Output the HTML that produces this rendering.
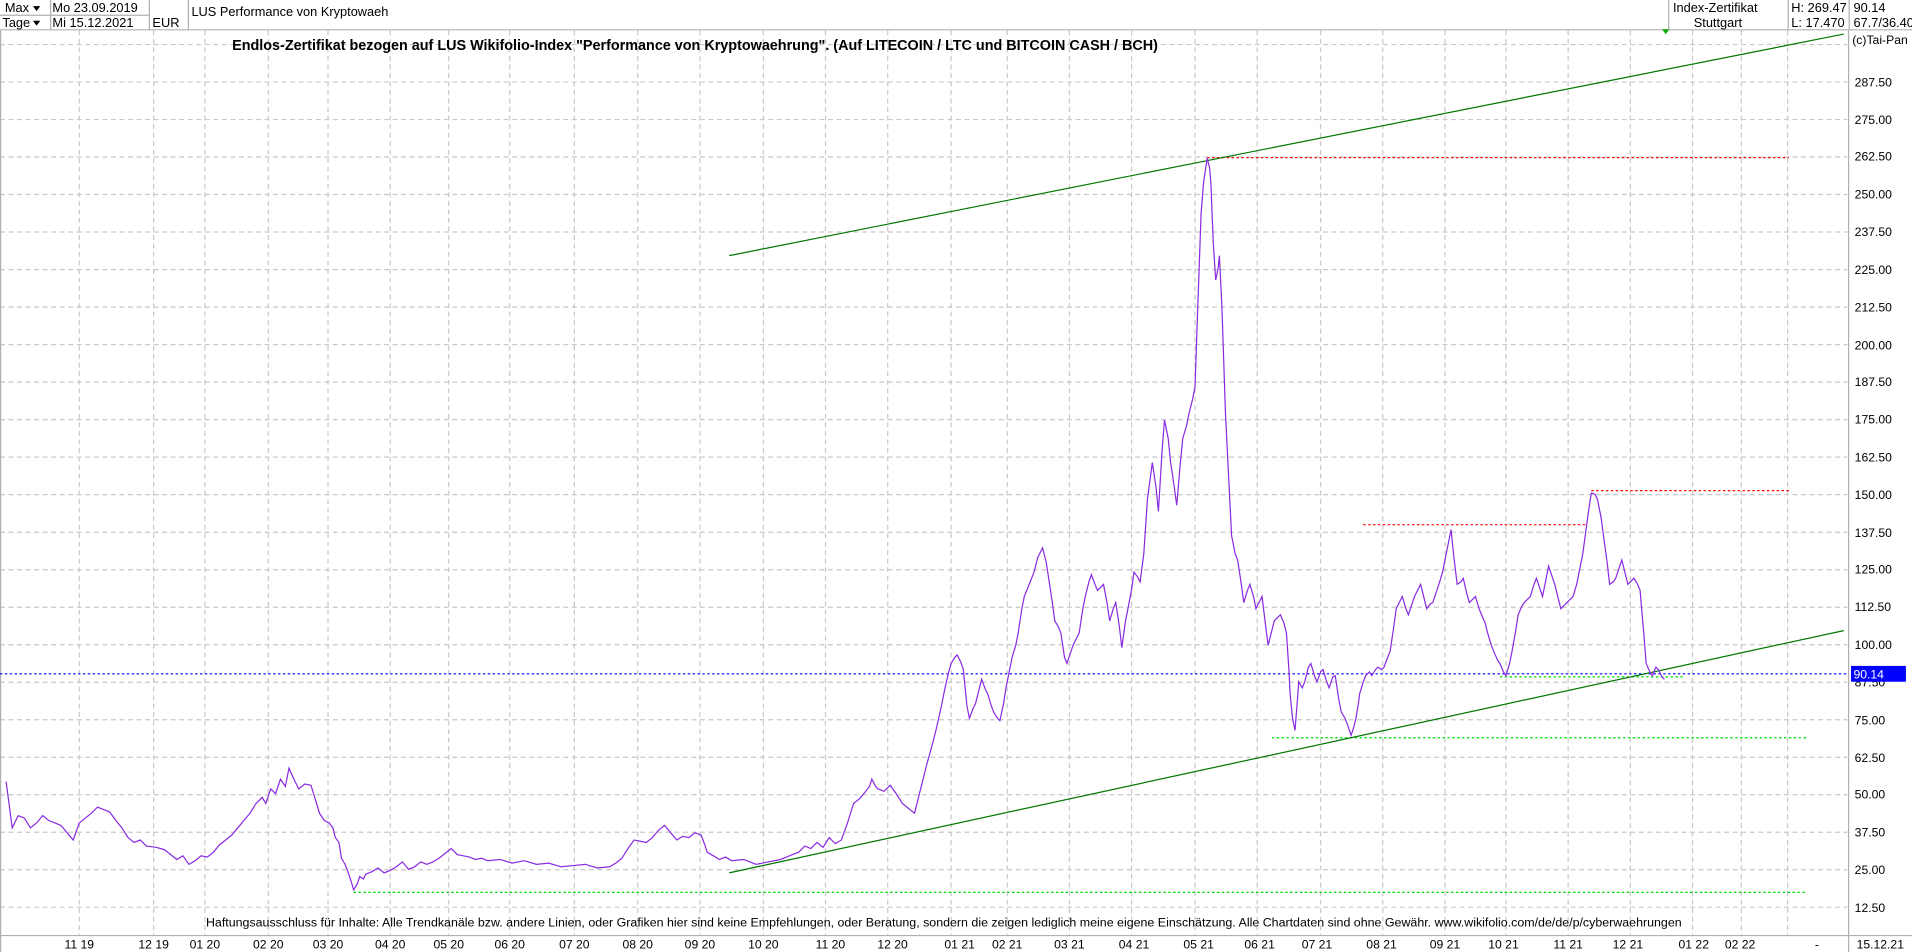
<!DOCTYPE html>
<html><head><meta charset="utf-8"><style>
html,body{margin:0;padding:0;background:#fff;}
svg{display:block;font-family:"Liberation Sans",sans-serif;}
</style></head><body>
<svg width="1912" height="952" viewBox="0 0 1568 782" preserveAspectRatio="none" xmlns="http://www.w3.org/2000/svg">
<rect width="1568" height="782" fill="#fff"/>
<g stroke="#b0b0b0" stroke-width="1" fill="none">
<line x1="0" y1="12.5" x2="122" y2="12.5"/>
<line x1="0" y1="24.5" x2="1568" y2="24.5"/>
<line x1="41.5" y1="0" x2="41.5" y2="25"/>
<line x1="122.5" y1="0" x2="122.5" y2="25"/>
<line x1="154.5" y1="0" x2="154.5" y2="25"/>
<line x1="1368.5" y1="0" x2="1368.5" y2="25"/>
<line x1="1466.5" y1="0" x2="1466.5" y2="25"/>
<line x1="1516.5" y1="0" x2="1516.5" y2="25"/>
</g>
<g font-size="10.5" fill="#000">
<text x="4" y="10">Max</text><path d="M27 5l6 0l-3 4z" fill="#000"/>
<text x="2" y="22">Tage</text><path d="M27 17l6 0l-3 4z" fill="#000"/>
<text x="43" y="10">Mo 23.09.2019</text>
<text x="43" y="22">Mi 15.12.2021</text>
<text x="125" y="22">EUR</text>
<text x="157" y="13">LUS Performance von Kryptowaeh</text>
<text x="1372" y="10">Index-Zertifikat</text>
<text x="1389" y="22">Stuttgart</text>
<text x="1469" y="10">H: 269.47</text>
<text x="1469" y="22">L: 17.470</text>
<text x="1520" y="10">90.14</text>
<text x="1520" y="22">67.7/36.40</text>
</g>
<g stroke="#c8c8c8" stroke-width="1" stroke-dasharray="4,3" fill="none">
<line x1="0" y1="36.6" x2="1515" y2="36.6"/>
<line x1="0" y1="67.4" x2="1515" y2="67.4"/><line x1="0" y1="98.2" x2="1515" y2="98.2"/>
<line x1="0" y1="129" x2="1515" y2="129"/><line x1="0" y1="159.8" x2="1515" y2="159.8"/>
<line x1="0" y1="190.6" x2="1515" y2="190.6"/><line x1="0" y1="221.5" x2="1515" y2="221.5"/>
<line x1="0" y1="252.3" x2="1515" y2="252.3"/><line x1="0" y1="283.1" x2="1515" y2="283.1"/>
<line x1="0" y1="313.9" x2="1515" y2="313.9"/><line x1="0" y1="344.7" x2="1515" y2="344.7"/>
<line x1="0" y1="375.5" x2="1515" y2="375.5"/><line x1="0" y1="406.3" x2="1515" y2="406.3"/>
<line x1="0" y1="437.2" x2="1515" y2="437.2"/><line x1="0" y1="468" x2="1515" y2="468"/>
<line x1="0" y1="498.8" x2="1515" y2="498.8"/><line x1="0" y1="529.6" x2="1515" y2="529.6"/>
<line x1="0" y1="560.4" x2="1515" y2="560.4"/><line x1="0" y1="591.2" x2="1515" y2="591.2"/>
<line x1="0" y1="622" x2="1515" y2="622"/><line x1="0" y1="652.8" x2="1515" y2="652.8"/>
<line x1="0" y1="683.6" x2="1515" y2="683.6"/><line x1="0" y1="714.4" x2="1515" y2="714.4"/>
<line x1="0" y1="745.2" x2="1515" y2="745.2"/>
<line x1="65" y1="25" x2="65" y2="768"/><line x1="126" y1="25" x2="126" y2="768"/>
<line x1="168" y1="25" x2="168" y2="768"/><line x1="220" y1="25" x2="220" y2="768"/>
<line x1="269" y1="25" x2="269" y2="768"/><line x1="320" y1="25" x2="320" y2="768"/>
<line x1="368" y1="25" x2="368" y2="768"/><line x1="418" y1="25" x2="418" y2="768"/>
<line x1="471" y1="25" x2="471" y2="768"/><line x1="523" y1="25" x2="523" y2="768"/>
<line x1="574" y1="25" x2="574" y2="768"/><line x1="626" y1="25" x2="626" y2="768"/>
<line x1="677" y1="25" x2="677" y2="768"/><line x1="728" y1="25" x2="728" y2="768"/>
<line x1="780" y1="25" x2="780" y2="768"/><line x1="826" y1="25" x2="826" y2="768"/>
<line x1="877" y1="25" x2="877" y2="768"/><line x1="928" y1="25" x2="928" y2="768"/>
<line x1="980" y1="25" x2="980" y2="768"/><line x1="1031" y1="25" x2="1031" y2="768"/>
<line x1="1083" y1="25" x2="1083" y2="768"/><line x1="1134" y1="25" x2="1134" y2="768"/>
<line x1="1185" y1="25" x2="1185" y2="768"/><line x1="1235" y1="25" x2="1235" y2="768"/>
<line x1="1286" y1="25" x2="1286" y2="768"/><line x1="1337" y1="25" x2="1337" y2="768"/>
<line x1="1388" y1="25" x2="1388" y2="768"/><line x1="1428" y1="25" x2="1428" y2="768"/>
<line x1="1466" y1="25" x2="1466" y2="768"/>
</g>
<line x1="1516" y1="25" x2="1516" y2="782" stroke="#b0b0b0"/>
<line x1="0" y1="768.5" x2="1568" y2="768.5" stroke="#b0b0b0"/>
<line x1="0.5" y1="25" x2="0.5" y2="782" stroke="#b0b0b0"/>
<g font-size="10" fill="#000">
<text x="1519" y="36">(c)Tai-Pan</text>
<text x="1521" y="71">287.50</text><text x="1521" y="102">275.00</text>
<text x="1521" y="132">262.50</text><text x="1521" y="163">250.00</text>
<text x="1521" y="194">237.50</text><text x="1521" y="225">225.00</text>
<text x="1521" y="256">212.50</text><text x="1521" y="287">200.00</text>
<text x="1521" y="317">187.50</text><text x="1521" y="348">175.00</text>
<text x="1521" y="379">162.50</text><text x="1521" y="410">150.00</text>
<text x="1521" y="441">137.50</text><text x="1521" y="471">125.00</text>
<text x="1521" y="502">112.50</text><text x="1521" y="533">100.00</text>
<text x="1521" y="564">87.50</text><text x="1521" y="595">75.00</text>
<text x="1521" y="626">62.50</text><text x="1521" y="656">50.00</text>
<text x="1521" y="687">37.50</text><text x="1521" y="718">25.00</text>
<text x="1521" y="749">12.50</text>
</g>
<rect x="1518" y="547" width="45" height="13" fill="#0000ff"/>
<text x="1520" y="557.5" font-size="10" fill="#fff">90.14</text>
<g font-size="10" fill="#000" text-anchor="middle">
<text x="65" y="779">11 19</text><text x="126" y="779">12 19</text><text x="168" y="779">01 20</text>
<text x="220" y="779">02 20</text><text x="269" y="779">03 20</text><text x="320" y="779">04 20</text>
<text x="368" y="779">05 20</text><text x="418" y="779">06 20</text><text x="471" y="779">07 20</text>
<text x="523" y="779">08 20</text><text x="574" y="779">09 20</text><text x="626" y="779">10 20</text>
<text x="681" y="779">11 20</text><text x="732" y="779">12 20</text><text x="787" y="779">01 21</text>
<text x="826" y="779">02 21</text><text x="877" y="779">03 21</text><text x="930" y="779">04 21</text>
<text x="983" y="779">05 21</text><text x="1033" y="779">06 21</text><text x="1080" y="779">07 21</text>
<text x="1133" y="779">08 21</text><text x="1185" y="779">09 21</text><text x="1233" y="779">10 21</text>
<text x="1286" y="779">11 21</text><text x="1335" y="779">12 21</text><text x="1389" y="779">01 22</text>
<text x="1427" y="779">02 22</text><text x="1490" y="779">-</text><text x="1542" y="779">15.12.21</text>
</g>
<text x="570" y="41" font-size="11.8" font-weight="bold" text-anchor="middle">Endlos-Zertifikat bezogen auf LUS Wikifolio-Index "Performance von Kryptowaehrung". (Auf LITECOIN / LTC und BITCOIN CASH / BCH)</text>
<text x="774" y="761" font-size="10.2" text-anchor="middle">Haftungsausschluss für Inhalte: Alle Trendkanäle bzw. andere Linien, oder Grafiken hier sind keine Empfehlungen, oder Beratung, sondern die zeigen lediglich meine eigene Einschätzung. Alle Chartdaten sind ohne Gewähr.  www.wikifolio.com/de/de/p/cyberwaehrungen</text>
<line x1="0" y1="553.5" x2="1515" y2="553.5" stroke="#0000ff" stroke-dasharray="2,2"/>
<g stroke="#ff0000" stroke-dasharray="2,2">
<line x1="990" y1="129.5" x2="1467" y2="129.5"/>
<line x1="1118" y1="431" x2="1302" y2="431"/>
<line x1="1305" y1="403" x2="1467" y2="403"/>
</g>
<g stroke="#00dd00" stroke-dasharray="2,2">
<line x1="1043" y1="606" x2="1482" y2="606"/>
<line x1="1230" y1="556" x2="1380" y2="556"/>
<line x1="290" y1="733" x2="1482" y2="733"/>
</g>
<g stroke="#007700" stroke-width="1">
<line x1="598" y1="210" x2="1512" y2="28"/>
<line x1="598" y1="717" x2="1512" y2="518"/>
</g>
<path d="M1363 24l6 0l-3 4z" fill="#00aa00"/>
<polyline fill="none" stroke="#8a2be2" stroke-width="1" points="5,642 10,680 15,670 20,672 25,680 30,676 35,670 40,674 45,676 50,678 55,684 60,690 65,676 70,672 75,668 80,663 85,665 90,667 95,674 100,680 105,688 110,692 115,690 120,695 128,696 135,698 140,702 145,706 150,703 155,710 160,707 165,703 170,704 175,700 180,694 185,690 190,686 195,680 200,674 205,668 210,660 215,655 218,660 222,648 226,652 230,640 234,646 237,631 241,640 245,648 250,644 255,645 259,658 262,668 266,674 270,676 273,680 275,688 278,692 280,705 283,710 285,715 288,724 290,731 293,726 295,720 298,722 300,718 305,716 310,713 315,717 320,715 325,712 330,708 335,714 340,712 345,708 350,710 355,708 360,705 365,701 370,697 375,702 380,703 385,704 390,706 395,705 400,707 410,706 420,709 430,707 440,710 450,709 460,712 470,711 480,710 490,713 500,712 505,709 510,705 515,697 520,690 525,691 530,692 535,688 540,682 545,678 550,684 555,690 560,687 565,688 570,684 575,686 578,694 580,700 585,703 590,706 595,704 600,707 610,706 620,710 630,708 640,706 645,704 650,702 655,700 660,695 665,697 670,692 675,696 680,688 685,693 690,690 695,676 700,660 705,656 710,650 713,646 715,640 718,646 720,648 725,650 730,645 735,652 740,660 745,664 750,668 752,660 755,648 760,628 765,610 768,598 772,580 775,565 778,552 780,545 783,540 785,538 788,544 790,550 793,580 795,590 798,582 800,578 803,566 805,558 808,566 810,570 813,580 815,585 818,590 820,592 823,578 825,565 828,550 830,540 833,530 835,520 838,500 840,490 844,480 848,470 851,458 855,450 858,462 860,475 863,495 865,510 868,515 870,520 873,540 875,545 878,536 880,530 883,524 885,520 888,500 890,490 893,478 895,472 898,480 900,485 903,482 905,480 908,496 910,510 913,500 915,495 918,515 920,532 923,510 925,500 928,484 930,470 933,474 935,478 938,455 941,410 945,380 948,400 950,420 953,370 955,345 958,360 960,380 963,400 965,415 968,380 970,360 973,350 975,340 978,328 980,318 982,260 985,175 987,150 990,130 992,138 993,150 995,200 997,230 999,220 1000,210 1002,250 1003,280 1004,310 1005,340 1008,400 1010,440 1013,455 1015,460 1018,480 1020,495 1023,485 1025,480 1028,490 1030,500 1033,494 1035,490 1038,515 1040,530 1043,518 1045,510 1048,507 1050,505 1053,512 1055,520 1057,550 1058,570 1060,590 1062,600 1064,575 1065,560 1068,565 1070,560 1073,548 1075,545 1078,555 1080,560 1083,552 1085,550 1088,560 1090,565 1093,556 1095,555 1098,575 1100,585 1103,590 1105,595 1108,604 1110,598 1112,590 1114,578 1115,570 1118,560 1120,555 1123,552 1125,555 1128,550 1130,548 1133,550 1135,548 1138,540 1140,535 1143,515 1145,500 1148,494 1150,490 1153,500 1155,505 1158,496 1160,490 1163,484 1165,480 1168,492 1170,500 1173,496 1175,495 1178,486 1180,480 1183,470 1185,460 1188,445 1190,435 1192,455 1195,480 1198,478 1200,475 1203,488 1205,495 1208,492 1210,490 1213,500 1215,505 1218,512 1220,520 1223,530 1225,535 1228,542 1230,545 1233,552 1235,555 1238,545 1240,535 1243,518 1245,505 1248,498 1250,495 1253,492 1255,490 1258,480 1260,475 1263,484 1265,490 1268,475 1270,465 1273,474 1275,480 1278,492 1280,500 1283,497 1285,495 1288,492 1290,490 1293,480 1295,470 1298,455 1300,440 1303,418 1305,405 1308,406 1310,410 1313,425 1315,440 1318,462 1320,480 1323,478 1325,475 1328,466 1330,460 1333,472 1335,480 1338,477 1340,475 1343,480 1345,485 1348,520 1350,545 1353,552 1355,555 1358,548 1360,550 1363,556 1365,558"/>
</svg>
</body></html>
